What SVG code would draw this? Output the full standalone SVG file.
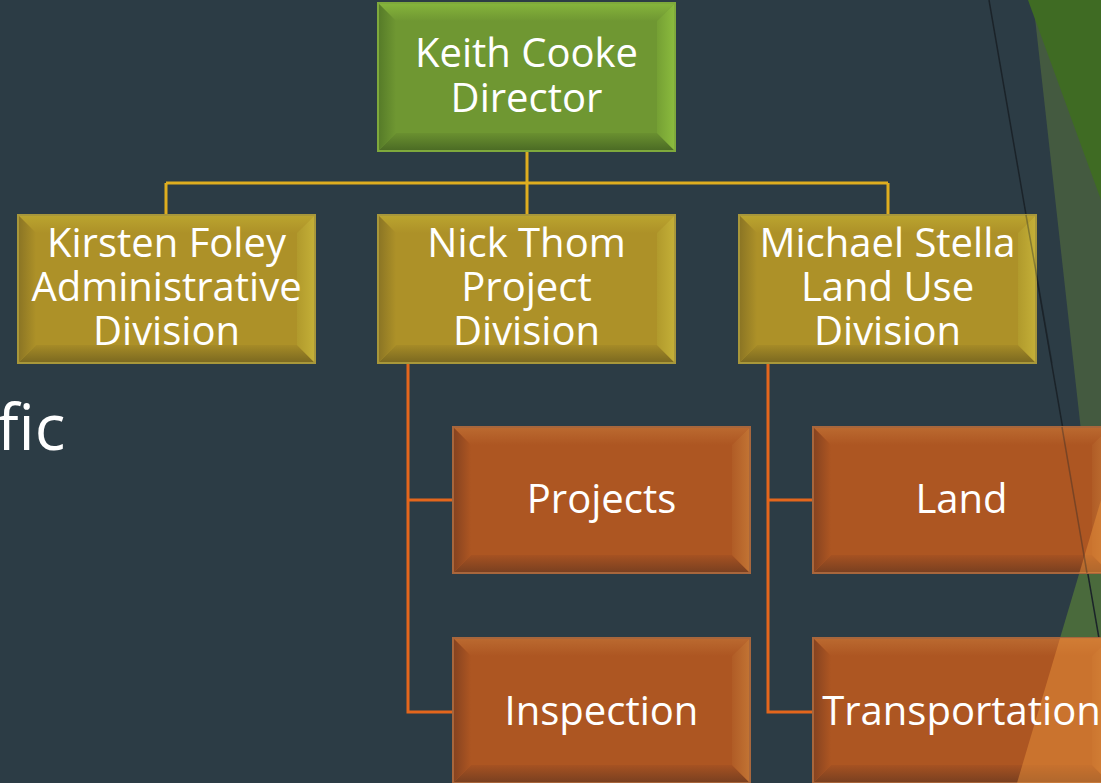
<svg xmlns="http://www.w3.org/2000/svg" width="1101" height="783" viewBox="0 0 1101 783">
<defs>
<style>
.lbl{font-family:"Open Sans","Liberation Sans",sans-serif;fill:#ffffff;font-size:40px;text-anchor:middle}
.big{font-family:"Open Sans","Liberation Sans",sans-serif;fill:#ffffff;font-size:64px}
.yl{stroke:#dfae1f;stroke-width:3;fill:none}
.ol{stroke:#e4661c;stroke-width:3;fill:none}
.tint{fill:#e8903a;opacity:0.5}
.gr-face{fill:#6f9732}.gr-top{fill:url(#grT)}.gr-bot{fill:url(#grB)}.gr-lft{fill:url(#grL)}.gr-rgt{fill:url(#grR)}.gr-brd{fill:none;stroke:#7fa93c;stroke-width:2}
.ye-face{fill:#ad9128}.ye-top{fill:url(#yeT)}.ye-bot{fill:url(#yeB)}.ye-lft{fill:url(#yeL)}.ye-rgt{fill:url(#yeR)}.ye-brd{fill:none;stroke:#a8973a;stroke-width:2}
.or-face{fill:#ad5622}.or-top{fill:url(#orT)}.or-bot{fill:url(#orB)}.or-lft{fill:url(#orL)}.or-rgt{fill:url(#orR)}.or-brd{fill:none;stroke:#a8663c;stroke-width:2}
</style>
<linearGradient id="grT" x1="0" y1="0" x2="0" y2="1"><stop offset="0" stop-color="#86b53c"/><stop offset="1" stop-color="#6f9732"/></linearGradient>
<linearGradient id="grB" x1="0" y1="0" x2="0" y2="1"><stop offset="0" stop-color="#6a9030"/><stop offset="1" stop-color="#4a6a24"/></linearGradient>
<linearGradient id="grL" x1="0" y1="0" x2="1" y2="0"><stop offset="0" stop-color="#557a28"/><stop offset="1" stop-color="#6f9732"/></linearGradient>
<linearGradient id="grR" x1="0" y1="0" x2="1" y2="0"><stop offset="0" stop-color="#75a034"/><stop offset="1" stop-color="#8cbc3e"/></linearGradient>
<linearGradient id="yeT" x1="0" y1="0" x2="0" y2="1"><stop offset="0" stop-color="#bba52f"/><stop offset="1" stop-color="#ad9128"/></linearGradient>
<linearGradient id="yeB" x1="0" y1="0" x2="0" y2="1"><stop offset="0" stop-color="#a68b27"/><stop offset="1" stop-color="#7a6820"/></linearGradient>
<linearGradient id="yeL" x1="0" y1="0" x2="1" y2="0"><stop offset="0" stop-color="#8a7424"/><stop offset="1" stop-color="#ad9128"/></linearGradient>
<linearGradient id="yeR" x1="0" y1="0" x2="1" y2="0"><stop offset="0" stop-color="#b19a2c"/><stop offset="1" stop-color="#c4b038"/></linearGradient>
<linearGradient id="orT" x1="0" y1="0" x2="0" y2="1"><stop offset="0" stop-color="#bb6a30"/><stop offset="1" stop-color="#ad5622"/></linearGradient>
<linearGradient id="orB" x1="0" y1="0" x2="0" y2="1"><stop offset="0" stop-color="#a65222"/><stop offset="1" stop-color="#783f20"/></linearGradient>
<linearGradient id="orL" x1="0" y1="0" x2="1" y2="0"><stop offset="0" stop-color="#854220"/><stop offset="1" stop-color="#ad5622"/></linearGradient>
<linearGradient id="orR" x1="0" y1="0" x2="1" y2="0"><stop offset="0" stop-color="#b05c26"/><stop offset="1" stop-color="#c27434"/></linearGradient>
<clipPath id="clipLand"><rect x="813" y="427" width="297" height="146"/></clipPath>
<clipPath id="clipTrans"><rect x="813" y="638" width="297" height="145"/></clipPath>
</defs>

<rect x="0" y="0" width="1101" height="783" fill="#2c3c45"/>

<g id="decor">
<polygon points="1033,0 1101,0 1101,610" fill="#445a40"/>
<polygon points="1017,783 1101,500 1101,783" fill="#4a6a3c"/>
<polygon points="1028,0 1101,0 1101,200" fill="#3f6b23"/>
<line x1="989" y1="0" x2="1101" y2="650" stroke="#1b2329" stroke-width="1.5"/>
</g>

<text class="big" x="-3" y="450">fic</text>

<g id="connectors">
<path class="yl" d="M527,151 V183 M166,183 H888 M166,183 V215 M527,183 V215 M888,183 V215"/>
<path class="ol" d="M408,363 V712 H453 M408,500 H453"/>
<path class="ol" d="M768,363 V712 H813 M768,500 H813"/>
</g>

<g id="node-keith">
<rect class="gr-face" x="378" y="3" width="297" height="148"/>
<polygon class="gr-top" points="378,3 675,3 657,21 396,21"/>
<polygon class="gr-bot" points="378,151 675,151 657,133 396,133"/>
<polygon class="gr-lft" points="378,3 396,21 396,133 378,151"/>
<polygon class="gr-rgt" points="675,3 657,21 657,133 675,151"/>
<rect class="gr-brd" x="378" y="3" width="297" height="148"/>
<text class="lbl" x="526.5" y="67">Keith Cooke</text>
<text class="lbl" x="526.5" y="112">Director</text>
</g>

<g id="node-kirsten">
<rect class="ye-face" x="18" y="215" width="297" height="148"/>
<polygon class="ye-top" points="18,215 315,215 297,233 36,233"/>
<polygon class="ye-bot" points="18,363 315,363 297,345 36,345"/>
<polygon class="ye-lft" points="18,215 36,233 36,345 18,363"/>
<polygon class="ye-rgt" points="315,215 297,233 297,345 315,363"/>
<rect class="ye-brd" x="18" y="215" width="297" height="148"/>
<text class="lbl" x="166.5" y="257">Kirsten Foley</text>
<text class="lbl" x="166.5" y="301">Administrative</text>
<text class="lbl" x="166.5" y="345">Division</text>
</g>

<g id="node-nick">
<rect class="ye-face" x="378" y="215" width="297" height="148"/>
<polygon class="ye-top" points="378,215 675,215 657,233 396,233"/>
<polygon class="ye-bot" points="378,363 675,363 657,345 396,345"/>
<polygon class="ye-lft" points="378,215 396,233 396,345 378,363"/>
<polygon class="ye-rgt" points="675,215 657,233 657,345 675,363"/>
<rect class="ye-brd" x="378" y="215" width="297" height="148"/>
<text class="lbl" x="526.5" y="257">Nick Thom</text>
<text class="lbl" x="526.5" y="301">Project</text>
<text class="lbl" x="526.5" y="345">Division</text>
</g>

<g id="node-michael">
<rect class="ye-face" x="739" y="215" width="297" height="148"/>
<polygon class="ye-top" points="739,215 1036,215 1018,233 757,233"/>
<polygon class="ye-bot" points="739,363 1036,363 1018,345 757,345"/>
<polygon class="ye-lft" points="739,215 757,233 757,345 739,363"/>
<polygon class="ye-rgt" points="1036,215 1018,233 1018,345 1036,363"/>
<rect class="ye-brd" x="739" y="215" width="297" height="148"/>
<line x1="1026" y1="215" x2="1052" y2="363" stroke="#1b2329" stroke-width="1.5" opacity="0.35"/>
<text class="lbl" x="887.5" y="257">Michael Stella</text>
<text class="lbl" x="887.5" y="301">Land Use</text>
<text class="lbl" x="887.5" y="345">Division</text>
</g>

<g id="node-projects">
<rect class="or-face" x="453" y="427" width="297" height="146"/>
<polygon class="or-top" points="453,427 750,427 732,445 471,445"/>
<polygon class="or-bot" points="453,573 750,573 732,555 471,555"/>
<polygon class="or-lft" points="453,427 471,445 471,555 453,573"/>
<polygon class="or-rgt" points="750,427 732,445 732,555 750,573"/>
<rect class="or-brd" x="453" y="427" width="297" height="146"/>
<text class="lbl" x="601.5" y="513">Projects</text>
</g>

<g id="node-inspection">
<rect class="or-face" x="453" y="638" width="297" height="145"/>
<polygon class="or-top" points="453,638 750,638 732,656 471,656"/>
<polygon class="or-bot" points="453,783 750,783 732,765 471,765"/>
<polygon class="or-lft" points="453,638 471,656 471,765 453,783"/>
<polygon class="or-rgt" points="750,638 732,656 732,765 750,783"/>
<rect class="or-brd" x="453" y="638" width="297" height="145"/>
<text class="lbl" x="601.5" y="725">Inspection</text>
</g>

<g id="node-land">
<rect class="or-face" x="813" y="427" width="297" height="146"/>
<polygon class="or-top" points="813,427 1110,427 1092,445 831,445"/>
<polygon class="or-bot" points="813,573 1110,573 1092,555 831,555"/>
<polygon class="or-lft" points="813,427 831,445 831,555 813,573"/>
<polygon class="or-rgt" points="1110,427 1092,445 1092,555 1110,573"/>
<rect class="or-brd" x="813" y="427" width="297" height="146"/>
<polygon class="tint" points="1017,783 1101,500 1101,783" clip-path="url(#clipLand)"/>
<line x1="1062" y1="427" x2="1087" y2="573" stroke="#1b2329" stroke-width="1.5" opacity="0.35"/>
<text class="lbl" x="961.5" y="513">Land</text>
</g>

<g id="node-transportation">
<rect class="or-face" x="813" y="638" width="297" height="145"/>
<polygon class="or-top" points="813,638 1110,638 1092,656 831,656"/>
<polygon class="or-bot" points="813,783 1110,783 1092,765 831,765"/>
<polygon class="or-lft" points="813,638 831,656 831,765 813,783"/>
<polygon class="or-rgt" points="1110,638 1092,656 1092,765 1110,783"/>
<rect class="or-brd" x="813" y="638" width="297" height="145"/>
<polygon class="tint" points="1017,783 1101,500 1101,783" clip-path="url(#clipTrans)"/>
<text class="lbl" x="961.5" y="725">Transportation</text>
</g>
</svg>
